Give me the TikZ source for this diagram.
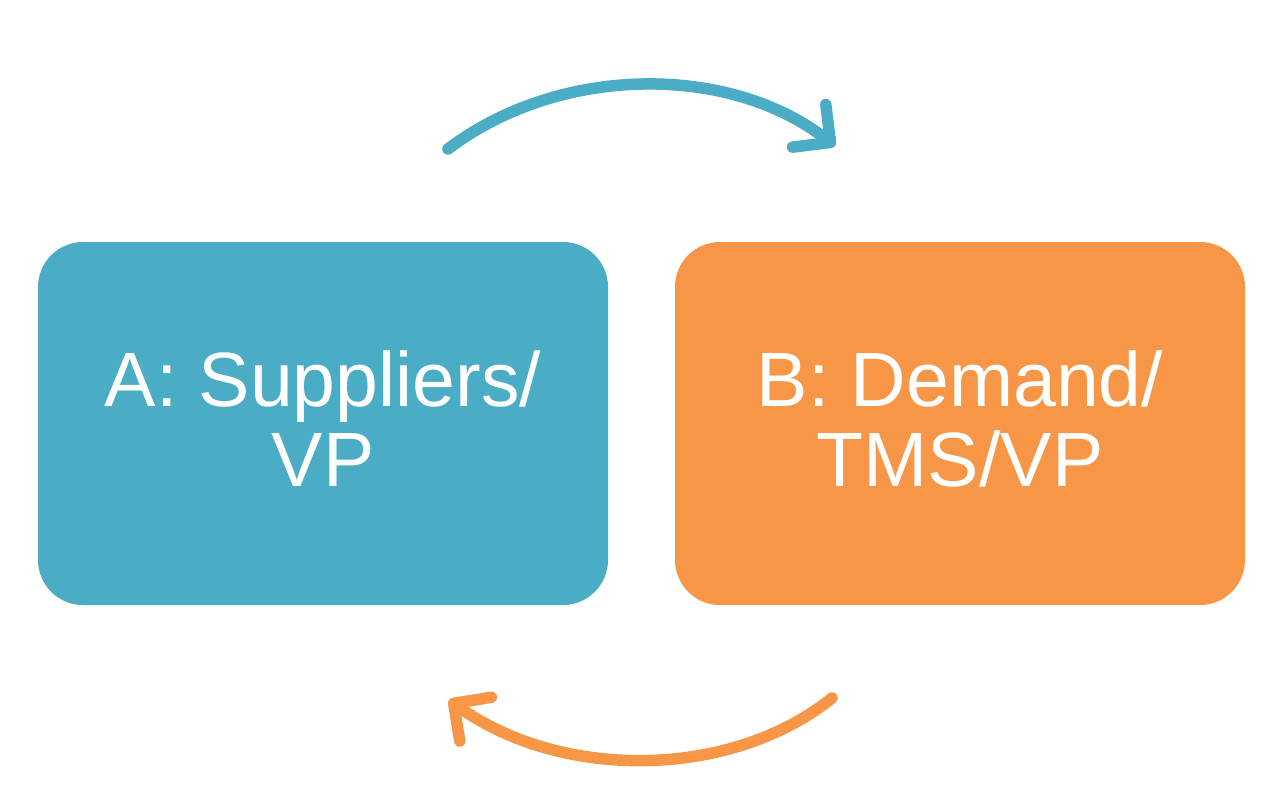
\documentclass[tikz,border=0pt]{standalone}
\usepackage{fontspec}
\setmainfont{Liberation Sans}
\usetikzlibrary{arrows.meta}
\definecolor{bblue}{HTML}{4BACC6}
\definecolor{borange}{HTML}{F79646}
\begin{document}
\begin{tikzpicture}[x=1pt,y=-1pt,
  box/.style={rounded corners=45pt, minimum width=570pt, minimum height=363pt, inner sep=0pt},
  boxtext/.style={text=white, font=\fontsize{77}{80}\selectfont, align=center, inner sep=0pt},
  flow/.style={line width=11.5pt, line cap=round,
    -{Straight Barb[length=27pt, width=54pt, line width=11.5pt, round]}}]
\useasboundingbox (0,0) rectangle (1287,792);
\node[box, fill=bblue] (a) at (323,423.5) {};
\node[box, fill=borange] (b) at (960,423.5) {};
\node[boxtext] (at) at (a.center) [yshift=5pt] {A: Suppliers/\\VP};
\node[boxtext] (bt) at (b.center) [yshift=5pt] {B: Demand/\\TMS/VP};
\coordinate (t1) at (448,149);
\coordinate (t2) at (835,146);
\coordinate (b1) at (832,698);
\coordinate (b2) at (449,700);
\draw[flow, bblue] (t1) .. controls (560,64) and (730,64) .. (t2);
\draw[flow, borange] (b1) .. controls (730,780) and (560,780) .. (b2);
\end{tikzpicture}
\end{document}
